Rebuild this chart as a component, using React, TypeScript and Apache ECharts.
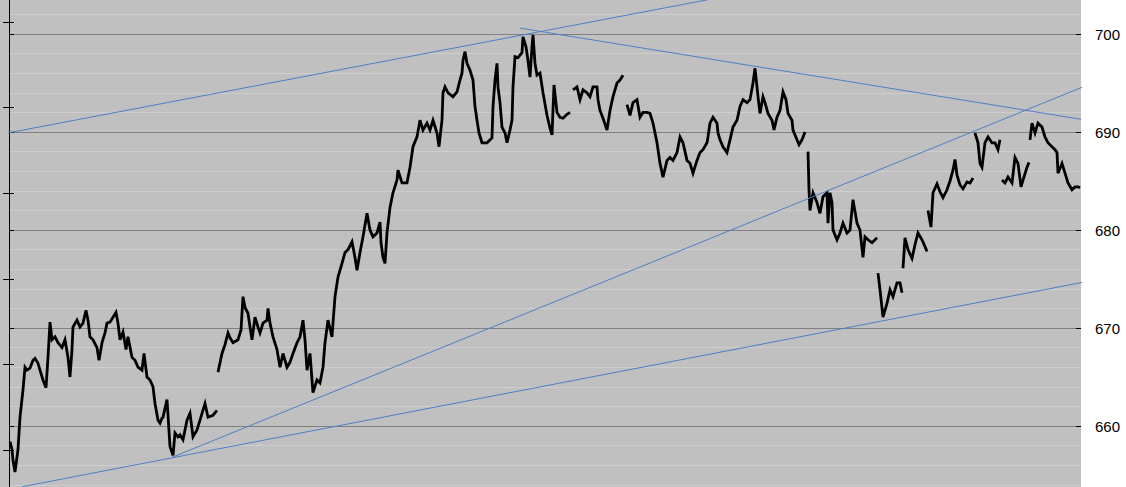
import React, { useEffect, useRef } from 'react';
import * as echarts from 'echarts';

// [bar index, price]; null marks a gap in trading
const priceSeries: [number, number | null][] = [
  [1, 658.4], [3, 657.6], [4, 656.5], [6, 655.3], [9, 657.6], [11, 660.9], [14, 663.7], [16, 666.0],
  [18, 665.7], [21, 665.9], [24, 666.7], [26, 666.9], [29, 666.4], [31, 665.7], [34, 664.7], [37, 663.9],
  [39, 667.0], [41, 670.6], [43, 668.8], [46, 669.1], [49, 668.5], [53, 668.0], [56, 668.8], [59, 667.0],
  [61, 665.0], [63, 667.8], [64, 670.1], [68, 670.8], [71, 670.1], [74, 670.5], [77, 671.8], [79, 670.8],
  [81, 669.1], [84, 668.8], [88, 668.0], [90, 666.7], [93, 668.5], [96, 669.5], [98, 670.5], [101, 670.6],
  [104, 671.1], [107, 671.6], [109, 670.5], [111, 668.8], [114, 669.6], [117, 667.8], [119, 669.1], [123, 667.0],
  [126, 666.7], [129, 666.0], [133, 665.7], [135, 667.4], [138, 665.0], [141, 664.7], [144, 664.0], [146, 662.3],
  [149, 660.6], [151, 660.3], [153, 660.8], [154, 660.9], [158, 662.7], [161, 657.9], [164, 657.0], [166, 659.3],
  [169, 658.9], [171, 659.1], [174, 658.6], [178, 660.6], [181, 661.3], [184, 658.9], [188, 659.6], [191, 660.6],
  [196, 662.3], [199, 660.9], [204, 661.1], [208, 661.6], [208.5, null],
  [209, 665.5], [213, 667.4], [216, 668.3], [219, 669.5], [221, 669.0], [224, 668.5], [229, 668.8], [232, 669.8],
  [234, 673.2], [236, 672.1], [239, 671.5], [241, 670.1], [243, 668.8], [246, 671.1], [249, 670.1], [251, 669.5],
  [254, 670.5], [258, 670.8], [259, 672.0], [261, 670.5], [264, 669.1], [268, 667.8], [271, 666.0], [274, 667.4],
  [278, 666.0], [281, 666.5], [284, 667.4], [288, 668.5], [291, 669.1], [294, 670.8], [296, 668.8], [298, 665.7],
  [301, 667.4], [303, 664.7], [304, 663.4], [308, 664.7], [311, 664.4], [314, 666.0], [316, 668.5], [319, 670.8],
  [323, 669.1], [324, 670.5], [326, 673.2], [329, 675.2], [333, 676.6], [336, 677.7], [339, 678.0], [343, 678.8],
  [346, 677.2], [348, 675.9], [351, 677.7], [354, 679.3], [358, 681.7], [361, 680.0], [364, 679.3], [368, 679.7],
  [371, 680.8], [372, 678.7], [374, 677.2], [376, 676.6], [378, 679.7], [381, 682.3], [384, 683.8], [388, 685.1],
  [389, 686.1], [393, 684.8], [398, 684.8], [401, 686.4], [404, 688.5], [408, 689.5], [411, 691.2], [414, 690.2],
  [418, 690.9], [421, 690.2], [424, 691.2], [428, 689.9], [430, 688.5], [433, 691.2], [434, 694.0], [436, 694.6],
  [439, 694.0], [444, 693.6], [448, 694.1], [451, 695.3], [453, 696.0], [454, 697.3], [456, 698.2], [458, 697.0],
  [461, 696.3], [464, 695.3], [466, 692.6], [468, 691.2], [470, 689.9], [473, 688.9], [478, 688.9], [483, 689.4],
  [484, 692.6], [486, 695.3], [488, 697.0], [489, 694.6], [491, 693.0], [493, 690.5], [496, 689.9], [498, 688.9],
  [501, 690.2], [503, 691.2], [504, 694.6], [506, 697.7], [509, 697.6], [513, 698.1], [514, 699.7], [517, 698.7],
  [519, 697.3], [521, 695.6], [523, 698.7], [524, 699.9], [526, 697.0], [528, 695.8], [531, 696.0], [534, 694.0],
  [538, 691.7], [541, 690.4], [543, 689.7], [545, 694.8], [548, 692.0], [551, 691.5], [554, 691.4], [558, 691.8],
  [561, 692.0], [562, null],
  [564, 694.3], [568, 694.6], [571, 693.3], [574, 694.3], [578, 694.0], [581, 693.6], [584, 694.6], [588, 694.6],
  [589, 693.3], [591, 692.2], [594, 691.4], [598, 690.2], [601, 692.2], [604, 693.6], [608, 695.0], [611, 695.3],
  [614, 695.8], [616, null],
  [618, 692.8], [621, 691.7], [624, 693.0], [628, 693.3], [631, 691.5], [634, 692.0], [638, 692.0], [641, 691.9],
  [644, 690.9], [648, 688.9], [651, 686.8], [654, 685.4], [658, 687.1], [661, 687.4], [664, 687.1], [668, 687.9],
  [671, 689.5], [674, 688.9], [678, 687.1], [681, 686.8], [684, 685.8], [688, 687.1], [691, 687.9], [694, 688.2],
  [698, 688.9], [699, 689.5], [701, 690.9], [704, 691.5], [708, 690.9], [709, 689.9], [711, 689.2], [714, 688.5],
  [718, 687.9], [721, 689.2], [724, 690.5], [728, 691.2], [731, 692.6], [734, 693.3], [738, 693.0], [741, 693.3],
  [744, 695.0], [746, 696.5], [748, 694.6], [749, 693.6], [751, 691.9], [754, 693.6], [756, 693.0], [759, 691.9],
  [763, 691.2], [765, 690.2], [768, 691.5], [771, 692.2], [774, 694.1], [777, 693.3], [779, 691.9], [783, 691.2],
  [784, 690.2], [788, 689.2], [790, 688.7], [793, 689.2], [796, 690.0], [797.5, null],
  [799, 688.0], [800, 684.1], [801, 682.0], [804, 683.8], [808, 682.8], [811, 681.7], [814, 683.4], [818, 683.8],
  [819, 680.7], [821, 683.8], [823, 682.8], [824, 680.0], [828, 679.0], [831, 679.7], [834, 680.7], [838, 679.7],
  [841, 680.0], [844, 683.1], [848, 680.7], [851, 680.0], [854, 677.2], [856, 679.3], [859, 679.0], [863, 678.7],
  [866, 679.0], [868, 679.2], [868.5, null],
  [869, 675.6], [871, 673.9], [874, 671.1], [878, 672.5], [881, 673.9], [884, 673.2], [888, 674.6], [891, 674.6],
  [893, 673.6], [893.5, null],
  [894, 676.1], [896, 679.2], [899, 678.0], [903, 677.1], [906, 678.5], [909, 679.7], [913, 679.0], [916, 678.3],
  [918, 677.8], [918.5, null],
  [919, 682.0], [922, 680.3], [924, 683.8], [928, 684.7], [931, 683.9], [934, 683.3], [938, 684.1], [941, 685.0],
  [944, 686.1], [946, 687.2], [948, 685.6], [951, 684.6], [954, 684.2], [958, 684.9], [961, 684.8], [964, 685.3],
  [965, null],
  [966, 689.9], [969, 688.9], [971, 686.8], [973, 686.4], [976, 688.9], [979, 689.5], [983, 688.9], [986, 688.9],
  [989, 688.2], [991, 689.2], [992, null],
  [993, 685.1], [996, 684.8], [999, 685.4], [1003, 684.8], [1006, 687.4], [1009, 686.8], [1012, 684.4], [1014, 685.1],
  [1018, 686.4], [1020, 686.9], [1020.5, null],
  [1021, 689.2], [1023, 690.9], [1026, 689.9], [1029, 690.9], [1033, 690.5], [1036, 689.5], [1039, 688.9], [1043, 688.5],
  [1046, 688.2], [1048, 687.9], [1049, 685.8], [1053, 686.8], [1056, 685.8], [1059, 684.8], [1063, 684.1], [1066, 684.4],
  [1069, 684.4], [1071, 684.3],
];

// trend lines: [bar index, price] endpoints
const trendLines: { from: [number, number]; to: [number, number] }[] = [
  { from: [-9, 689.75], to: [771, 704.9] },
  { from: [511, 700.6], to: [1072, 691.3] },
  { from: [163, 656.8], to: [1086, 695.1] },
  { from: [13, 653.8], to: [1096, 675.1] },
];

const timeRange = { min: 0, max: 1072 };
const priceRange = { min: 650, max: 710, step: 10, minorParts: 5 };
const leftScale = { min: 0, max: 7, step: 1 };

const FONT = 'Liberation Sans, Arial, sans-serif';

export default function App() {
  const ref = useRef<HTMLDivElement>(null);

  useEffect(() => {
    if (!ref.current) return;
    const chart = echarts.init(ref.current, undefined, { renderer: 'svg' });

    const option: any = {
      animation: false,
      backgroundColor: 'transparent',
      grid: [
        { left: 9, top: -64, width: 1072, height: 588, show: false, outerBoundsMode: 'none' },
        { left: 9, top: -63.6, width: 1072, height: 599.2, show: false, outerBoundsMode: 'none' },
      ],
      xAxis: [
        { type: 'value', gridIndex: 0, min: timeRange.min, max: timeRange.max, show: false },
        { type: 'value', gridIndex: 1, min: 0, max: 1, show: false },
      ],
      yAxis: [
        {
          type: 'value',
          gridIndex: 0,
          position: 'right',
          min: priceRange.min,
          max: priceRange.max,
          interval: priceRange.step,
          axisLine: { show: true, lineStyle: { color: '#000', width: 1 } },
          axisTick: { show: true, inside: false, length: 5, lineStyle: { color: '#000', width: 1 } },
          axisLabel: {
            show: true,
            margin: 14,
            color: '#000',
            fontSize: 15,
            fontFamily: FONT,
            showMinLabel: false,
            showMaxLabel: false,
          },
          splitLine: { show: true, lineStyle: { color: '#808080', width: 1 } },
          minorTick: { show: false, splitNumber: priceRange.minorParts },
          minorSplitLine: { show: true, lineStyle: { color: '#cecece', width: 1 } },
        },
        {
          type: 'value',
          gridIndex: 0,
          position: 'right',
          min: priceRange.min,
          max: priceRange.max,
          interval: priceRange.step,
          axisLine: { show: false },
          axisTick: { show: true, inside: true, length: 5, lineStyle: { color: '#000', width: 1 } },
          axisLabel: { show: false },
          splitLine: { show: false },
        },
        {
          type: 'value',
          gridIndex: 1,
          position: 'left',
          min: leftScale.min,
          max: leftScale.max,
          interval: leftScale.step,
          axisLine: { show: true, lineStyle: { color: '#000', width: 1 } },
          axisTick: { show: true, inside: false, length: 6, lineStyle: { color: '#000', width: 1 } },
          axisLabel: { show: false },
          splitLine: { show: false },
        },
        {
          type: 'value',
          gridIndex: 1,
          position: 'left',
          min: leftScale.min,
          max: leftScale.max,
          interval: leftScale.step,
          axisLine: { show: false },
          axisTick: { show: true, inside: true, length: 5, lineStyle: { color: '#000', width: 1 } },
          axisLabel: { show: false },
          splitLine: { show: false },
        },
      ],
      series: [
        {
          type: 'line',
          xAxisIndex: 0,
          yAxisIndex: 0,
          data: priceSeries.map(([t, p]) => [t, p === null ? '-' : p]),
          showSymbol: false,
          symbol: 'none',
          connectNulls: false,
          lineStyle: { color: '#000', width: 2.8, join: 'miter' },
          z: 3,
          silent: true,
        },
        ...trendLines.map((l) => ({
          type: 'line',
          xAxisIndex: 0,
          yAxisIndex: 0,
          data: [l.from, l.to],
          symbol: 'none',
          showSymbol: false,
          clip: false,
          lineStyle: { color: '#4f7fc6', width: 1 },
          z: 4,
          silent: true,
        })),
      ],
    };

    chart.setOption(option);
    return () => chart.dispose();
  }, []);

  return (
    <div
      ref={ref}
      style={{
        position: 'absolute',
        left: 0,
        top: 0,
        width: 1126,
        height: 487,
        background: 'linear-gradient(to right, #c0c0c0 0px, #c0c0c0 1081px, #ffffff 1081px, #ffffff 1126px)',
      }}
    />
  );
}
